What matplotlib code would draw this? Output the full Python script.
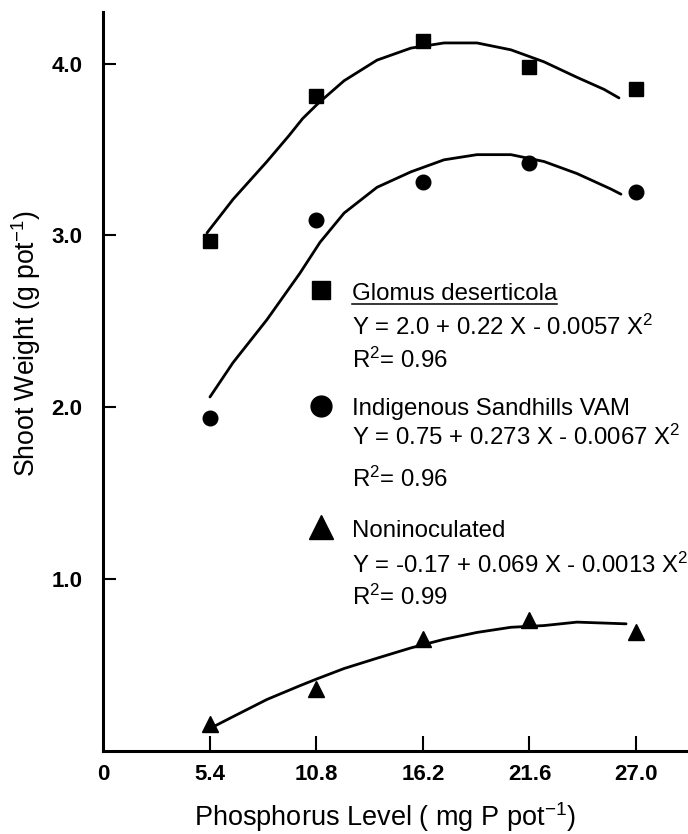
import matplotlib
matplotlib.use("Agg")
import matplotlib.pyplot as plt

plt.rcParams['font.family'] = ['Liberation Sans', 'DejaVu Sans']
plt.rcParams['mathtext.fontset'] = 'custom'
plt.rcParams['mathtext.rm'] = 'Liberation Sans'
plt.rcParams['mathtext.it'] = 'Liberation Sans:italic'
plt.rcParams['mathtext.bf'] = 'Liberation Sans:bold'

# ---- data ----
p_levels = [5.4, 10.8, 16.2, 21.6, 27.0]
glomus = [2.97, 3.81, 4.13, 3.98, 3.85]
indigenous = [1.94, 3.09, 3.31, 3.42, 3.25]
noninoc = [0.16, 0.36, 0.65, 0.76, 0.69]

# fitted curves
glomus_fit_x = [5.25, 6.57, 8.29, 9.40, 10.10, 10.90, 12.20, 13.87, 15.59, 17.27, 18.94, 20.66, 22.34, 24.01, 25.38, 26.14]
glomus_fit_y = [3.015, 3.21, 3.43, 3.58, 3.68, 3.77, 3.90, 4.02, 4.09, 4.12, 4.12, 4.08, 4.01, 3.92, 3.85, 3.80]
indig_fit_x = [5.40, 6.57, 8.29, 9.96, 10.98, 12.20, 13.87, 15.59, 17.27, 18.94, 20.66, 22.34, 24.01, 25.73, 26.24]
indig_fit_y = [2.06, 2.26, 2.51, 2.78, 2.96, 3.13, 3.28, 3.37, 3.44, 3.47, 3.47, 3.43, 3.36, 3.27, 3.24]
nonin_fit_x = [5.55, 6.57, 8.29, 9.96, 10.83, 12.20, 13.87, 15.59, 17.27, 18.94, 20.66, 22.34, 24.01, 26.50]
nonin_fit_y = [0.14, 0.20, 0.30, 0.38, 0.42, 0.48, 0.54, 0.60, 0.65, 0.69, 0.72, 0.73, 0.75, 0.74]

x_ticks = [0, 5.4, 10.8, 16.2, 21.6, 27.0]
x_ticklabels = ['0', '5.4', '10.8', '16.2', '21.6', '27.0']
y_ticks = [1.0, 2.0, 3.0, 4.0]
y_ticklabels = ['1.0', '2.0', '3.0', '4.0']

legend_titles = ['Glomus deserticola', 'Indigenous Sandhills VAM', 'Noninoculated']
legend_eqs = ['Y = 2.0 + 0.22 X - 0.0057 X$^{2}$',
              'Y = 0.75 + 0.273 X - 0.0067 X$^{2}$',
              'Y = -0.17 + 0.069 X - 0.0013 X$^{2}$']
legend_r2 = ['R$^{2}$= 0.96', 'R$^{2}$= 0.96', 'R$^{2}$= 0.99']

# ---- figure ----
fig = plt.figure(figsize=(6.88, 8.34), dpi=100)
ax = fig.add_axes([0.1504, 0.0995, 0.8496, 0.8861])
ax.set_xlim(0, 29.64)
ax.set_ylim(0, 4.30)

lw = 2.0
ax.plot(glomus_fit_x, glomus_fit_y, color='black', lw=lw, solid_capstyle='round', solid_joinstyle='round')
ax.plot(indig_fit_x, indig_fit_y, color='black', lw=lw, solid_capstyle='round', solid_joinstyle='round')
ax.plot(nonin_fit_x, nonin_fit_y, color='black', lw=lw, solid_capstyle='round', solid_joinstyle='round')

ax.plot(p_levels, glomus, 's', color='black', ms=10, linestyle='none')
ax.plot(p_levels, indigenous, 'o', color='black', ms=10.5, linestyle='none')
ax.plot(p_levels, noninoc, '^', color='black', ms=12, linestyle='none')

for s in ['top', 'right']:
    ax.spines[s].set_visible(False)
for s in ['left', 'bottom']:
    ax.spines[s].set_linewidth(2.2)

ax.set_xticks(x_ticks)
ax.set_xticklabels(x_ticklabels, fontsize=16, fontweight='bold')
ax.set_yticks(y_ticks)
ax.set_yticklabels(y_ticklabels, fontsize=16, fontweight='bold')
ax.tick_params(axis='x', direction='in', length=11, width=1.5, pad=9)
ax.tick_params(axis='y', direction='in', length=9, width=1.5, pad=15)
ax.xaxis.get_major_ticks()[0].tick1line.set_visible(False)

ax.set_xlabel('Phosphorus Level ( mg P pot$^{-1}$)', fontsize=19.5)
ax.set_ylabel('Shoot Weight (g pot$^{-1}$)', fontsize=19.2)
ax.xaxis.set_label_coords(0.482, -0.066)
ax.yaxis.set_label_coords(-0.103, 0.552)

# ---- legend block ----
tx = 0.4251
title_y = [0.6103, 0.4547, 0.2896]
eq_y = [0.5629, 0.4141, 0.2409]
r2_y = [0.5183, 0.3572, 0.1976]
mk_x = 0.372
mk_y = [0.6238, 0.4668, 0.3031]
mk_style = [('s', 13), ('o', 15), ('^', 17)]
fs = 17.3

texts = []
for i in range(3):
    t = ax.text(tx, title_y[i], legend_titles[i], transform=ax.transAxes,
                fontsize=fs, va='baseline', ha='left')
    texts.append(t)
    ax.text(tx, eq_y[i], legend_eqs[i], transform=ax.transAxes,
            fontsize=fs, va='baseline', ha='left', clip_on=False)
    ax.text(tx, r2_y[i], legend_r2[i], transform=ax.transAxes,
            fontsize=fs, va='baseline', ha='left')
    m, ms = mk_style[i]
    ax.plot([mk_x], [mk_y[i]], m, color='black', ms=ms, transform=ax.transAxes,
            clip_on=False)

# underline first title
fig.canvas.draw()
bb = texts[0].get_window_extent(renderer=fig.canvas.get_renderer())
inv = ax.transAxes.inverted()
(x0, _), (x1, _) = inv.transform([(bb.x0, bb.y0), (bb.x1, bb.y0)])
uy = title_y[0] - 3.5 / (0.8861 * 834)
ax.plot([x0, x1], [uy, uy], color='black', lw=1.1, transform=ax.transAxes, clip_on=False)

fig.savefig('out.png', dpi=100)
